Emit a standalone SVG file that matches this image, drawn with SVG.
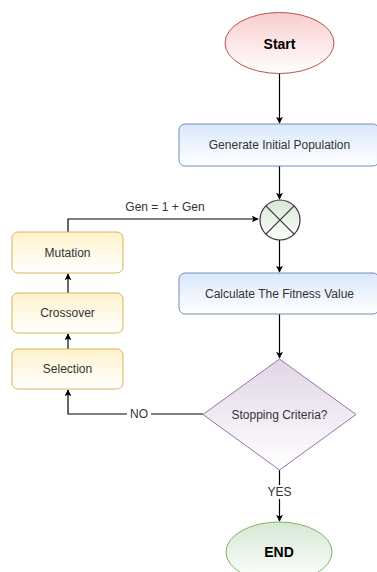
<svg xmlns="http://www.w3.org/2000/svg" width="377" height="572" viewBox="0 0 377 572">
<defs>
<linearGradient id="gRed" x1="0" y1="0" x2="0" y2="1"><stop offset="0" stop-color="#f8cecc"/><stop offset="1" stop-color="#ffffff"/></linearGradient>
<linearGradient id="gBlue" x1="0" y1="0" x2="0" y2="1"><stop offset="0" stop-color="#dae8fc"/><stop offset="1" stop-color="#ffffff"/></linearGradient>
<linearGradient id="gYel" x1="0" y1="0" x2="0" y2="1"><stop offset="0" stop-color="#fff2cc"/><stop offset="1" stop-color="#ffffff"/></linearGradient>
<linearGradient id="gGrn" x1="0" y1="0" x2="0" y2="1"><stop offset="0" stop-color="#d5e8d4"/><stop offset="1" stop-color="#ffffff"/></linearGradient>
<linearGradient id="gPur" x1="0" y1="0" x2="0" y2="1"><stop offset="0" stop-color="#e1d5e7"/><stop offset="1" stop-color="#ffffff"/></linearGradient>
<marker id="arr" viewBox="0 0 10 10" refX="9" refY="5" markerWidth="7" markerHeight="7" markerUnits="userSpaceOnUse" orient="auto"><path d="M0,0 L10,5 L0,10 L2.5,5 Z" fill="#000"/></marker>
</defs>
<style>
text{font-family:"Liberation Sans",Arial,Helvetica,sans-serif;font-size:12px;fill:#333;text-anchor:middle;dominant-baseline:central}
.b{font-weight:bold;font-size:14px;fill:#000}
.c{fill:none;stroke:#000;stroke-width:1.2;marker-end:url(#arr)}
.lbl{font-size:12px}
</style>
<g id="connectors">
<path class="c" d="M279.5,73 V123"/>
<path class="c" d="M279.5,166 V199"/>
<path class="c" d="M68,232 V219 H258"/>
<path class="c" d="M279.5,240 V272"/>
<path class="c" d="M68,293 V274"/>
<path class="c" d="M68,349 V334"/>
<path class="c" d="M279.5,314 V358"/>
<path class="c" d="M203,414 H68 V390"/>
<path class="c" d="M279.5,470 V521"/>
<rect x="127" y="407" width="24" height="14" fill="#fff"/>
<text class="lbl" x="139" y="414">NO</text>
<rect x="265" y="485" width="29" height="14" fill="#fff"/>
<text class="lbl" x="279.5" y="492">YES</text>
<text class="lbl" x="165" y="207">Gen = 1 + Gen</text>
</g>
<g id="start"><ellipse cx="279.5" cy="43" rx="54.5" ry="30.5" fill="url(#gRed)" stroke="#b85450"/><text class="b" x="279.5" y="44">Start</text></g>
<g id="generate"><rect x="179" y="124" width="200" height="42" rx="6" fill="url(#gBlue)" stroke="#6c8ebf"/><text x="279.5" y="145">Generate Initial Population</text></g>
<g id="junction"><circle cx="280" cy="220" r="20" fill="url(#gGrn)" stroke="#333" stroke-width="1.2"/><path d="M265.9,205.9 L294.1,234.1 M294.1,205.9 L265.9,234.1" stroke="#333" stroke-width="1.2"/></g>
<g id="calc"><rect x="179" y="273" width="200" height="41" rx="6" fill="url(#gBlue)" stroke="#6c8ebf"/><text x="279.5" y="293.5">Calculate The Fitness Value</text></g>
<g id="mutation"><rect x="12" y="232" width="111" height="41" rx="6" fill="url(#gYel)" stroke="#d6b656"/><text x="67.5" y="252.5">Mutation</text></g>
<g id="crossover"><rect x="12" y="293" width="111" height="40" rx="6" fill="url(#gYel)" stroke="#d6b656"/><text x="67.5" y="313">Crossover</text></g>
<g id="selection"><rect x="12" y="349" width="111" height="40" rx="6" fill="url(#gYel)" stroke="#d6b656"/><text x="67.5" y="369">Selection</text></g>
<g id="decision"><path d="M279.5,359 L356,414.5 L279.5,470 L203,414.5 Z" fill="url(#gPur)" stroke="#9673a6"/><text x="279.5" y="414.5">Stopping Criteria?</text></g>
<g id="end"><ellipse cx="279" cy="552" rx="53" ry="30" fill="url(#gGrn)" stroke="#82b366"/><text class="b" x="279" y="552">END</text></g>
</svg>
